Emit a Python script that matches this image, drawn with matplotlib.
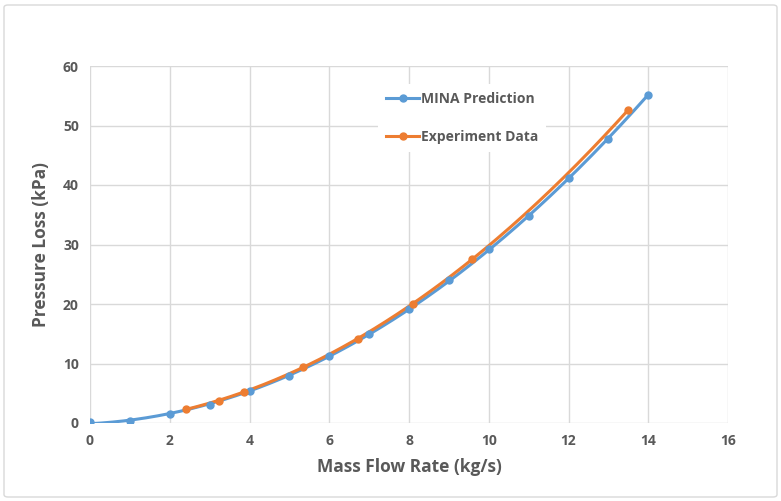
import matplotlib
matplotlib.use('Agg')
import matplotlib.pyplot as plt
import matplotlib.patches as mpatches
import numpy as np

plt.rcParams['font.family'] = ['Open Sans', 'DejaVu Sans']

# MINA prediction points
mina_x = [0, 1, 2, 3, 4, 5, 6, 7, 8, 9, 10, 11, 12, 13, 14]
mina_y = [0.2, 0.3, 1.5, 3.1, 5.3, 7.9, 11.3, 14.9, 19.2, 24.0, 29.2, 34.8, 41.1, 47.7, 55.2]

# Experiment points
exp_x = [2.41, 3.23, 3.86, 5.33, 6.72, 8.11, 9.57, 13.5]
exp_y = [2.35, 3.75, 5.2, 9.4, 14.1, 20.05, 27.6, 52.6]

blue = '#5B9BD5'
orange = '#ED7D31'
gray = '#595959'

fig = plt.figure(figsize=(7.81, 5.01), dpi=100)
ax = fig.add_axes([90 / 781, 1 - 423 / 501, 638 / 781, 357 / 501])

# polynomial trendlines fitted through each series
for xs, ys, c in [(mina_x, mina_y, blue), (exp_x, exp_y, orange)]:
    coef = np.polyfit(xs, ys, 2)
    xx = np.linspace(min(xs), max(xs), 200)
    ax.plot(xx, np.polyval(coef, xx), color=c, lw=2.2, zorder=3, solid_capstyle='round')

ax.plot(mina_x, mina_y, 'o', color=blue, ms=5, zorder=4)
ax.plot(exp_x, exp_y, 'o', color=orange, ms=5, zorder=4)

ax.set_xlim(0, 16)
ax.set_ylim(0, 60)
ax.set_xticks(range(0, 17, 2))
ax.set_yticks(range(0, 61, 10))
ax.grid(True, color='#D9D9D9', lw=1)
ax.set_axisbelow(True)
for s in ax.spines.values():
    s.set_visible(False)
ax.tick_params(length=0, labelsize=10, labelcolor=gray, pad=8)
for lbl in ax.get_xticklabels() + ax.get_yticklabels():
    lbl.set_fontweight('bold')

ax.set_xlabel('Mass Flow Rate (kg/s)', fontsize=12.5, fontweight='bold', color=gray, labelpad=7)
ax.set_ylabel('Pressure Loss (kPa)', fontsize=12.5, fontweight='bold', color=gray, labelpad=9)

h1, = ax.plot([], [], '-o', color=blue, lw=2.2, ms=5)
h2, = ax.plot([], [], '-o', color=orange, lw=2.2, ms=5)
leg = ax.legend([h1, h2], ['MINA Prediction', 'Experiment Data'], loc='upper left',
                bbox_to_anchor=(0.44, 0.97), frameon=True, fancybox=False, framealpha=1,
                edgecolor='none', fontsize=10, labelspacing=1.7, handlelength=2.4,
                handletextpad=0.1, borderpad=0.6)
for t in leg.get_texts():
    t.set_color(gray)
    t.set_fontweight('bold')

fig.patches.append(mpatches.FancyBboxPatch((4 / 781, 4 / 501), 773 / 781, 492 / 501,
                                           boxstyle='round,pad=0,rounding_size=0.005',
                                           transform=fig.transFigure, fill=False,
                                           edgecolor='#D9D9D9', lw=1))

fig.savefig('out.png', dpi=100, facecolor='white')
